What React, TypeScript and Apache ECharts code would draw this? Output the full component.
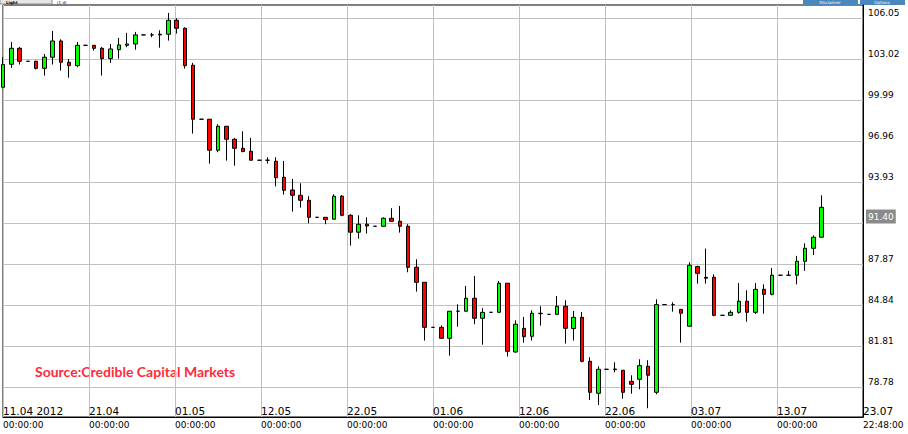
import React, { useEffect, useRef } from 'react';
import * as echarts from 'echarts';

// ---- data ----
const dateLabels = ['11.04 2012', '21.04', '01.05', '12.05', '22.05', '01.06', '12.06', '22.06', '03.07', '13.07', '23.07'];
const timeLabels = ['00:00:00', '00:00:00', '00:00:00', '00:00:00', '00:00:00', '00:00:00', '00:00:00', '00:00:00', '00:00:00', '00:00:00', '22:48:00'];
const priceTicks = [78.78, 81.81, 84.84, 87.87, 90.9, 93.93, 96.96, 99.99, 103.02, 106.05];
const lastPrice = 91.4;
const slotCount = 105;

const opens = [
  100.95, 102.65, 103.83, 102.87, 102.87, 102.35, 103.17, 104.37, 102.8, 102.55,
  104.05, 104.05, 103.83, 103.07, 103.73, 104.05, 104.15, 104.82, 104.82, 104.82,
  104.87, 105.9, 105.31, 102.58, 98.59, 98.59, 96.3, 98.07, 97.11, 96.44,
  96.22, 95.56, 95.56, 95.48, 94.3, 93.36, 92.97, 92.6, 91.34, 91.34,
  91.2, 92.9, 91.49, 90.24, 90.83, 90.68, 90.68, 91.27, 91.05, 90.68,
  87.65, 86.54, 83.21, 83.21, 82.4, 84.4, 84.4, 85.36, 83.88, 84.32,
  84.32, 86.47, 81.39, 83.14, 82.55, 84.22, 84.17, 84.17, 84.77, 83.12,
  83.95, 80.7, 78.34, 80.11, 80.08, 80.04, 79.22, 79.37, 80.33, 78.41,
  84.89, 84.89, 84.54, 83.29, 87.7, 86.91, 86.91, 84.1, 84.1, 84.32,
  85.14, 84.32, 86.02, 85.65, 87.06, 87.06, 87.06, 88.09, 89.05, 89.87,
];
const closes = [
  102.63, 103.83, 102.87, 102.87, 102.35, 103.17, 104.37, 102.8, 102.55, 104.05,
  104.05, 103.83, 103.07, 103.78, 104.08, 104.15, 104.82, 104.82, 104.82, 104.87,
  105.9, 105.31, 102.55, 98.59, 98.59, 96.3, 98.07, 97.11, 96.44, 96.2,
  95.56, 95.56, 95.56, 94.27, 93.34, 92.97, 92.6, 91.34, 91.34, 91.17,
  92.9, 91.49, 90.24, 90.83, 90.7, 90.68, 91.27, 91.05, 90.68, 87.65,
  86.54, 83.21, 83.21, 82.4, 84.4, 84.4, 85.36, 83.88, 84.32, 84.32,
  86.47, 81.44, 83.44, 82.52, 84.25, 84.25, 84.17, 84.77, 83.14, 83.95,
  80.7, 78.41, 80.11, 80.11, 80.13, 78.41, 79.0, 80.38, 79.67, 84.89,
  84.89, 84.89, 84.25, 87.8, 87.2, 86.84, 84.1, 84.1, 84.32, 85.14,
  84.32, 86.02, 85.65, 87.06, 87.06, 87.06, 88.09, 89.05, 89.87, 92.08,
];
const lows = [
  100.88, 102.38, 102.63, 102.87, 102.26, 101.81, 102.63, 102.18, 101.66, 102.43,
  104.05, 103.66, 101.81, 102.75, 103.07, 103.91, 103.73, 104.82, 104.65, 103.88,
  104.4, 104.92, 102.33, 97.53, 98.59, 95.31, 96.15, 95.53, 95.16, 96.15,
  95.56, 95.56, 95.31, 93.63, 93.02, 91.76, 92.06, 90.9, 91.34, 90.83,
  91.2, 91.42, 89.25, 89.77, 90.14, 90.68, 90.68, 91.05, 90.21, 87.28,
  85.85, 82.23, 83.21, 82.4, 81.12, 83.26, 84.4, 83.44, 81.93, 84.32,
  84.32, 81.05, 81.34, 82.08, 82.23, 83.34, 84.17, 84.17, 82.01, 82.23,
  80.63, 77.84, 77.47, 80.11, 79.89, 77.94, 78.31, 78.63, 77.23, 78.26,
  84.89, 84.37, 82.08, 83.29, 86.44, 86.44, 84.03, 84.1, 84.1, 84.22,
  83.63, 84.2, 84.22, 85.58, 87.06, 87.06, 86.39, 87.38, 88.56, 89.87,
];
const highs = [
  103.17, 104.3, 103.93, 102.87, 102.92, 103.41, 105.11, 104.5, 103.04, 104.3,
  104.05, 104.05, 103.93, 104.15, 104.6, 104.97, 105.04, 104.82, 104.97, 105.16,
  106.44, 106.05, 105.38, 102.75, 98.59, 98.59, 98.22, 98.07, 97.21, 97.7,
  97.21, 95.56, 95.78, 95.78, 95.51, 94.18, 93.86, 92.9, 91.34, 91.34,
  93.04, 92.99, 91.57, 91.49, 91.34, 90.68, 91.34, 92.01, 92.18, 90.83,
  88.24, 86.54, 83.21, 83.36, 84.4, 84.91, 86.27, 87.01, 84.62, 84.32,
  86.64, 86.47, 83.73, 83.98, 84.47, 84.77, 84.17, 85.53, 85.21, 84.42,
  84.35, 81.0, 80.33, 80.11, 80.63, 80.04, 79.67, 80.85, 80.78, 85.28,
  84.89, 85.06, 84.54, 88.02, 87.77, 89.03, 87.13, 84.1, 84.47, 86.49,
  85.95, 86.49, 86.39, 87.6, 87.06, 87.38, 88.49, 89.42, 90.01, 92.97,
];

const slots = Array.from({ length: slotCount }, (_, i) => String(i));
const candleData = opens.map((o, i) => [o, closes[i], lows[i], highs[i]]);

const AXIS_FONT = 'DejaVu Sans';

export default function App() {
  const ref = useRef<HTMLDivElement>(null);

  useEffect(() => {
    if (!ref.current) return;
    const chart = echarts.init(ref.current, null, { renderer: 'svg' });
    const option: any = {
      animation: false,
      backgroundColor: '#ffffff',
      grid: {
        left: 2,
        top: 5,
        right: 45,
        bottom: 17,
        show: true,
        borderColor: '#000000',
        borderWidth: 1,
        backgroundColor: 'transparent',
      },
      xAxis: [
        {
          type: 'category',
          data: slots,
          boundaryGap: false,
          show: false,
          position: 'top',
        },
        {
          type: 'value',
          min: 0,
          max: 10,
          interval: 1,
          position: 'bottom',
          axisLine: { show: true, onZero: false, lineStyle: { color: '#000000', width: 1 } },
          axisTick: { show: false },
          splitLine: { show: true, lineStyle: { color: '#c0c0c0', width: 1 } },
          axisLabel: {
            inside: true,
            align: 'left',
            margin: 1,
            color: '#000000',
            fontFamily: AXIS_FONT,
            fontSize: 10.5,
            formatter: (v: number) => dateLabels[Math.round(v)] ?? '',
          },
        },
        {
          type: 'value',
          min: 0,
          max: 10,
          interval: 1,
          position: 'bottom',
          axisLine: { show: false, onZero: false },
          axisTick: { show: false },
          splitLine: { show: false },
          axisLabel: {
            align: 'left',
            margin: 3,
            color: '#000000',
            fontFamily: AXIS_FONT,
            fontSize: 9,
            formatter: (v: number) => timeLabels[Math.round(v)] ?? '',
          },
        },
      ],
      yAxis: {
        type: 'value',
        position: 'right',
        min: 76.585,
        max: 107.03,
        scale: true,
        axisLine: { show: true, onZero: false, lineStyle: { color: '#000000', width: 1 } },
        axisTick: { show: false, customValues: priceTicks },
        splitLine: { show: true, lineStyle: { color: '#c0c0c0', width: 1 } },
        axisLabel: {
          customValues: priceTicks,
          margin: 5,
          color: '#000000',
          fontFamily: AXIS_FONT,
          fontSize: 9,
          verticalAlign: 'bottom',
          lineHeight: 10,
          formatter: (v: number) => (Math.abs(v - lastPrice) < 1 ? '' : v.toFixed(2)),
        },
      },
      series: [
        {
          type: 'candlestick',
          xAxisIndex: 0,
          yAxisIndex: 0,
          data: candleData,
          barWidth: 4,
          clip: false,
          itemStyle: {
            color: '#00ff00',
            color0: '#ff0000',
            borderColor: '#000000',
            borderColor0: '#000000',
            borderColorDoji: '#000000',
            borderWidth: 1,
          },
          markLine: {
            silent: true,
            symbol: 'none',
            animation: false,
            lineStyle: { color: 'rgba(0,0,0,0)', width: 0, type: 'solid' },
            label: {
              show: true,
              opacity: 1,
              position: 'end',
              distance: 3,
              color: '#ffffff',
              backgroundColor: '#8a8a8a',
              padding: [2, 2, 2, 2],
              lineHeight: 10,
              fontFamily: AXIS_FONT,
              fontSize: 9,
              formatter: () => lastPrice.toFixed(2),
            },
            data: [{ yAxis: lastPrice }],
          },
        },
      ],
      graphic: [
        {
          type: 'rect',
          shape: { x: 0, y: -14, width: 52, height: 18 },
          style: { fill: '#e6e6e6', stroke: '#8c8c8c', lineWidth: 1 },
        },
        {
          type: 'text',
          x: 6,
          y: 0,
          style: { text: 'Light', fill: '#000', font: 'bold 4px "DejaVu Sans"', textVerticalAlign: 'top' },
        },
        {
          type: 'text',
          x: 57,
          y: 0,
          style: { text: '(1 d)', fill: '#000', font: '4px "DejaVu Sans"', textVerticalAlign: 'top' },
        },
        {
          type: 'rect',
          shape: { x: 803, y: -14, width: 55, height: 19 },
          style: { fill: '#4b87bd' },
        },
        {
          type: 'text',
          x: 830,
          y: 0,
          style: { text: 'Disclaimer', fill: '#fff', font: '4px "DejaVu Sans"', textAlign: 'center', textVerticalAlign: 'top' },
        },
        {
          type: 'rect',
          shape: { x: 860, y: -14, width: 45, height: 19 },
          style: { fill: '#4b87bd' },
        },
        {
          type: 'text',
          x: 882,
          y: 0,
          style: { text: 'Options', fill: '#fff', font: '4px "DejaVu Sans"', textAlign: 'center', textVerticalAlign: 'top' },
        },
        {
          type: 'text',
          x: 35,
          y: 371,
          style: {
            text: 'Source:Credible Capital Markets',
            fill: '#ff2a3a',
            font: 'bold 14px Lato',
            textVerticalAlign: 'middle',
          },
        },
      ],
    };
    chart.setOption(option);
    return () => chart.dispose();
  }, []);

  return (
    <div
      ref={ref}
      style={{ position: 'absolute', left: 0, top: 0, width: 908, height: 434, background: '#fff' }}
    />
  );
}
